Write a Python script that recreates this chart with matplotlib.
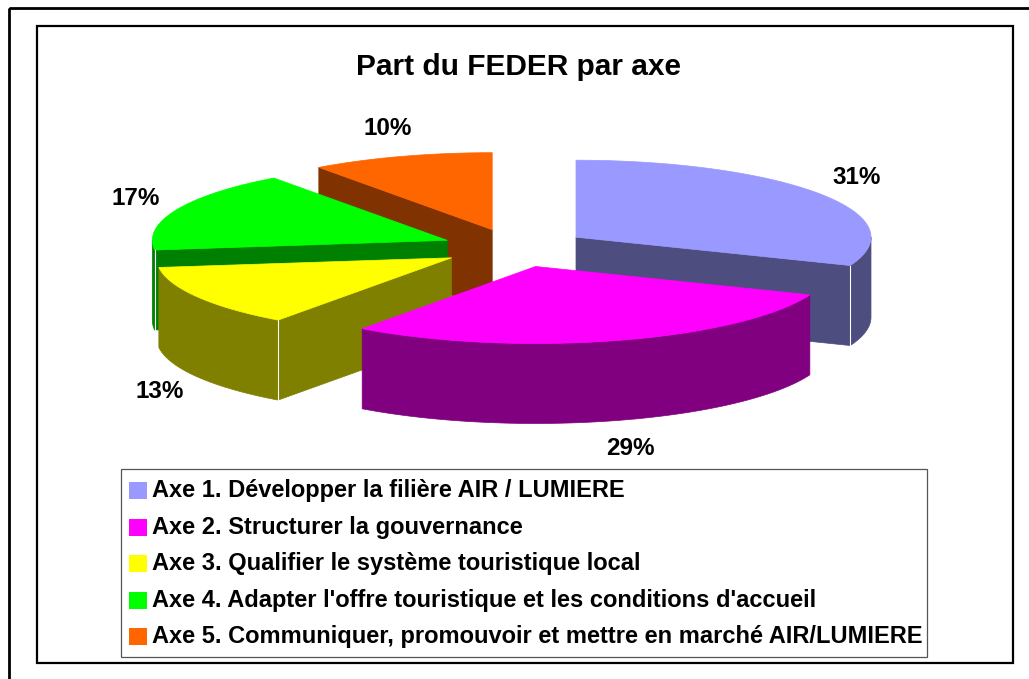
import numpy as np
import matplotlib
matplotlib.use('Agg')
from matplotlib import pyplot as plt
from matplotlib.patches import Polygon, Rectangle

plt.rcParams['font.family'] = ['Liberation Sans', 'DejaVu Sans']
plt.rcParams['font.weight'] = 'bold'

# données
titre = 'Part du FEDER par axe'
axes_labels = [
    'Axe 1. Développer la filière AIR / LUMIERE',
    'Axe 2. Structurer la gouvernance',
    'Axe 3. Qualifier le système touristique local',
    "Axe 4. Adapter l'offre touristique et les conditions d'accueil",
    'Axe 5. Communiquer, promouvoir et mettre en marché AIR/LUMIERE',
]
parts = [31, 29, 13, 17, 10]
couleurs_dessus = ['#9999FF', '#FF00FF', '#FFFF00', '#00FF00', '#FF6600']
couleurs_cote = ['#4D4D80', '#800080', '#808000', '#008000', '#803300']

# géométrie du camembert 3D (en pixels de l'image)
W, H = 1029, 679
cx, cy = 515, 248      # centre
rx, ry = 295, 77       # rayons de l'ellipse
prof = 80              # épaisseur
explose = 0.25


def pt(xc, yc, theta, dz=0):
    # angle en degrés, sens horaire depuis 12h
    t = np.radians(theta)
    return xc + rx * np.sin(t), yc - ry * np.cos(t) + dz


def arc(xc, yc, a, b, dz=0, n=80):
    th = np.linspace(a, b, n)
    xs, ys = pt(xc, yc, th, dz)
    return list(zip(xs, ys))


fig = plt.figure(figsize=(W / 100, H / 100), dpi=100)
ax = fig.add_axes([0, 0, 1, 1])
ax.set_xlim(0, W)
ax.set_ylim(H, 0)
ax.axis('off')

# cadres
ax.add_patch(Rectangle((9, 8), W + 20, H + 20, fill=False, ec='black', lw=2.0))
ax.add_patch(Rectangle((37, 26), 1013 - 37, 663 - 26, fill=False, ec='black', lw=1.6))

ax.text(518, 67, titre, ha='center', va='center', fontsize=21.5, fontweight='bold')

# calcul des angles
total = sum(parts)
bornes = np.cumsum([0] + parts) / total * 360
tranches = []
for i in range(len(parts)):
    a, b = bornes[i], bornes[i + 1]
    m = (a + b) / 2
    t = np.radians(m)
    xc = cx + explose * rx * np.sin(t)
    yc = cy - explose * ry * np.cos(t)
    tranches.append((i, a, b, m, xc, yc))

# dessin de l'arrière vers l'avant
for i, a, b, m, xc, yc in sorted(tranches, key=lambda s: s[5]):
    top = couleurs_dessus[i]
    side = couleurs_cote[i]
    faces = []
    # faces radiales visibles
    for phi, normale in ((a, a - 90), (b, b + 90)):
        if np.cos(np.radians(normale)) < -1e-6:
            ex, ey = pt(xc, yc, phi)
            faces.append((phi, [(xc, yc), (ex, ey), (ex, ey + prof), (xc, yc + prof)]))
    for _, poly in faces:
        ax.add_patch(Polygon(poly, closed=True, fc=side, ec=side, lw=0.5))
    # face courbe (moitié avant)
    lo, hi = max(a, 90), min(b, 270)
    if hi > lo:
        haut = arc(xc, yc, lo, hi)
        bas = arc(xc, yc, lo, hi, dz=prof)[::-1]
        ax.add_patch(Polygon(haut + bas, closed=True, fc=side, ec=side, lw=0.5))
    # liseré blanc sur les arêtes verticales avant
    for phi, poly in faces:
        if np.cos(np.radians(phi)) < 0:
            ex, ey = poly[1]
            ax.plot([ex, ex], [ey, ey + prof], color='white', lw=0.8)
    # dessus
    dessus = [(xc, yc)] + arc(xc, yc, a, b)
    ax.add_patch(Polygon(dessus, closed=True, fc=top, ec=top, lw=0.5))

# étiquettes des pourcentages
for i, a, b, m, xc, yc in tranches:
    t = np.radians(m)
    lx = xc + 1.15 * rx * np.sin(t)
    ly = yc - 1.38 * ry * np.cos(t)
    if np.cos(t) < 0:
        ly += prof
    ax.text(lx, ly, f'{parts[i]}%', ha='center', va='center', fontsize=17.5, fontweight='bold')

# légende
ax.add_patch(Rectangle((121, 469), 927 - 121, 657 - 469, fill=False, ec='#555555', lw=0.9))
for k, lab in enumerate(axes_labels):
    yy = 490.5 + k * 36.6
    ax.add_patch(Rectangle((129, yy - 8.5), 18, 17, fc=couleurs_dessus[k], ec='none'))
    ax.text(152, yy, lab, ha='left', va='center', fontsize=17, fontweight='bold')

fig.savefig('out.png', dpi=100, facecolor='white')
